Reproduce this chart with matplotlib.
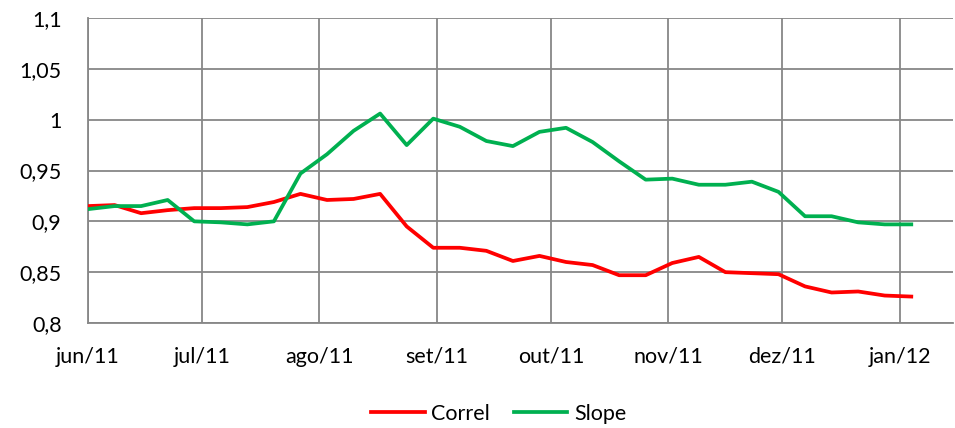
import datetime as dt
import matplotlib
matplotlib.use("Agg")
import matplotlib.pyplot as plt
from matplotlib.ticker import FuncFormatter

# weekly data, starting 1 jun 2011
start = dt.date(2011, 6, 1)
n_weeks = 32
dates = [start + dt.timedelta(days=7 * i) for i in range(n_weeks)]

correl = [0.915, 0.916, 0.908, 0.911, 0.913, 0.913, 0.914, 0.919, 0.927, 0.921,
          0.922, 0.927, 0.895, 0.874, 0.874, 0.871, 0.861, 0.866, 0.860, 0.857,
          0.847, 0.847, 0.859, 0.865, 0.850, 0.849, 0.848, 0.836, 0.830, 0.831,
          0.827, 0.826]
slope = [0.912, 0.915, 0.915, 0.921, 0.900, 0.899, 0.897, 0.900, 0.947, 0.966,
         0.989, 1.006, 0.975, 1.001, 0.993, 0.979, 0.974, 0.988, 0.992, 0.978,
         0.959, 0.941, 0.942, 0.936, 0.936, 0.939, 0.929, 0.905, 0.905, 0.899,
         0.897, 0.897]

month_ticks = [dt.date(2011, m, 1) for m in range(6, 13)] + [dt.date(2012, 1, 1)]
month_labels = ["jun/11", "jul/11", "ago/11", "set/11", "out/11", "nov/11",
                "dez/11", "jan/12"]
y_ticks = [0.8, 0.85, 0.9, 0.95, 1.0, 1.05, 1.1]

plt.rcParams['font.family'] = ['Lato', 'DejaVu Sans']
fs = 15.5

fig = plt.figure(figsize=(9.55, 4.28), dpi=100)
ax = fig.add_axes([88 / 955, 1 - 323 / 428, 865 / 955, 305 / 428])

grid_col = "#878787"
ax.plot(dates, correl, color="#ff0000", lw=2.7, label="Correl", zorder=3)
ax.plot(dates, slope, color="#00b050", lw=2.7, label="Slope", zorder=3)

ax.set_xlim(dt.date(2011, 6, 1), dt.date(2012, 1, 15))
ax.set_ylim(0.8, 1.1)
ax.set_xticks(month_ticks)
ax.set_xticklabels(month_labels)
ax.set_yticks(y_ticks)
ax.yaxis.set_major_formatter(FuncFormatter(lambda v, p: f"{v:g}".replace(".", ",")))

ax.grid(True, color=grid_col, lw=1.3)
ax.set_axisbelow(True)
for s in ["top", "right"]:
    ax.spines[s].set_visible(False)
for s in ["left", "bottom"]:
    ax.spines[s].set_color(grid_col)
    ax.spines[s].set_linewidth(1.3)
ax.tick_params(length=0, labelsize=fs, colors="black")
ax.tick_params(axis="y", pad=19)
ax.tick_params(axis="x", pad=17)

fig.legend(loc="lower center", bbox_to_anchor=(0.522, -0.035), ncol=2, frameon=False,
           fontsize=fs, handlelength=2.5, handletextpad=0.3, columnspacing=1.1)

plt.savefig("out.png", dpi=100)
